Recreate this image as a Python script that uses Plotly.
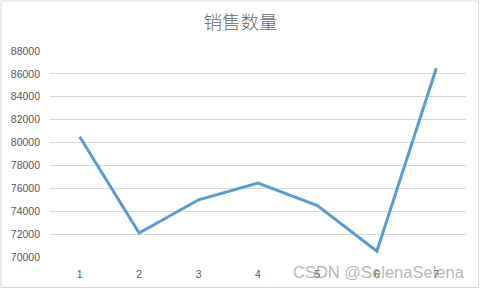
import plotly.graph_objects as go

categories = ["1", "2", "3", "4", "5", "6", "7"]
sales = [80500, 72100, 75000, 76450, 74500, 70500, 86500]
y_ticks = [70000, 72000, 74000, 76000, 78000, 80000, 82000, 84000, 86000, 88000]
title_text = "销售数量"
watermark = "CSDN @SelenaSelena"

W, H = 481, 289
L, R, T, B = 50, 15, 51, 32

fig = go.Figure()
fig.add_trace(go.Scatter(
    x=categories, y=sales, mode="lines",
    line=dict(color="#5B9BD5", width=3),
    hoverinfo="skip", showlegend=False,
))

fig.update_layout(
    width=W, height=H,
    margin=dict(l=L, r=R, t=T, b=B, autoexpand=False),
    paper_bgcolor="white", plot_bgcolor="white",
    title=dict(
        text=title_text, x=0.5, xanchor="center",
        y=1 - 23 / H, yanchor="middle", yref="container",
        font=dict(family="Noto Sans CJK SC", size=18.5, color="#6a6a6a", weight=300),
    ),
    font=dict(family="Liberation Sans, Arial", color="#595959", size=10.5),
    xaxis=dict(
        type="category", range=[-0.5, 6.5], automargin=False,
        showgrid=False, zeroline=False, showline=False,
        ticks="", ticklabelstandoff=9,
        tickfont=dict(family="Liberation Sans, Arial", size=10.5, color="#595959"),
    ),
    yaxis=dict(
        range=[70000, 88000], tickvals=y_ticks, automargin=False,
        tickformat="d",
        showgrid=True, gridcolor="#d9d9d9", gridwidth=1,
        zeroline=False, showline=False, ticks="",
        ticklabelstandoff=9,
        tickfont=dict(family="Liberation Sans, Arial", size=10.5, color="#595959"),
    ),
    shapes=[dict(
        type="rect", xref="paper", yref="paper",
        x0=(1 - L) / (W - L - R), x1=(W - 2.5 - L) / (W - L - R),
        y0=-(B - 1.5) / (H - T - B), y1=1 + (T - 1) / (H - T - B),
        line=dict(color="#d9d9d9", width=1), fillcolor="rgba(0,0,0,0)",
        layer="below",
    )],
    annotations=[dict(
        text=watermark, xref="paper", yref="paper",
        x=(379 - L) / (W - L - R), y=(H - B - 272) / (H - T - B),
        xanchor="center", yanchor="middle", showarrow=False,
        font=dict(family="Liberation Sans, Arial", size=16.5, color="rgba(150,150,150,0.7)"),
    )],
)

fig.write_html("out.html")
